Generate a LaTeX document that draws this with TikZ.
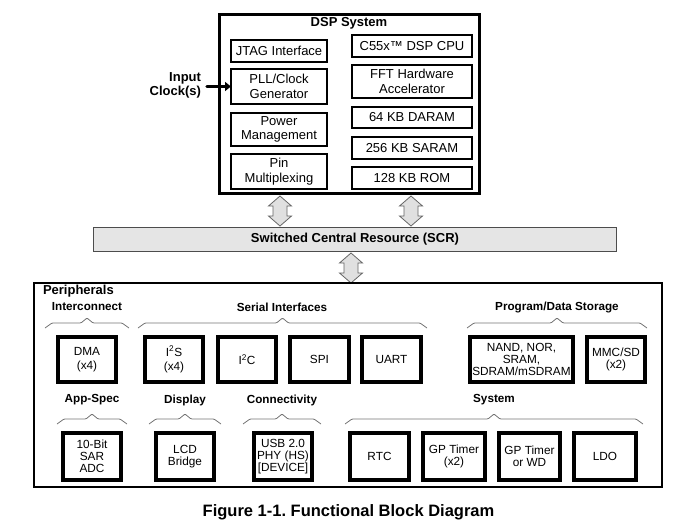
\documentclass[tikz,border=0pt]{standalone}
\usepackage{fontspec}
\setmainfont{Liberation Sans}
\usetikzlibrary{arrows.meta,positioning}
\frenchspacing

\tikzset{
    busarrow/.pic={
        \draw[draw=black!60, fill=black!12, line width=0.8pt]
            (0,-15) -- (11.5,-5) -- (7,-5) -- (7,5) -- (11.5,5) -- (0,15)
            -- (-11.5,5) -- (-7,5) -- (-7,-5) -- (-11.5,-5) -- cycle;
    }
}

\begin{document}
\begin{tikzpicture}[
    x=1pt, y=-1pt,
    every node/.style={inner sep=0pt, outer sep=0pt},
    dspbox/.style={rectangle, draw, line width=1.8pt, align=center, minimum width=96pt, font=\fontsize{13}{14.5}\selectfont},
    cpubox/.style={dspbox, minimum width=120pt},
    perbox/.style={rectangle, draw, line width=4pt, align=center, minimum width=58pt, minimum height=45pt, font=\fontsize{11.8}{12}\selectfont},
    perbox2/.style={perbox, minimum height=47pt},
    grplabel/.style={font=\fontsize{11.7}{13}\bfseries\selectfont},
    grpbrace/.style={draw=black!55, line width=0.8pt, rounded corners=1pt}
]
\useasboundingbox (0,0) rectangle (699,527);

% DSP system
\node[draw, line width=3pt, minimum width=260pt, minimum height=179pt] (dsp) at (349.5,104) {};
\node[font=\fontsize{13}{15}\bfseries\selectfont] (dsptitle) at (349,23) {DSP System};

\node[dspbox, minimum height=22pt] (jtag) at (279,51) {JTAG Interface};
\node[dspbox, minimum height=35pt] (pll) at (279,86.5) {PLL/Clock\\Generator};
\node[dspbox, minimum height=33pt] (power) at (279,129.5) {Power\\Management};
\node[dspbox, minimum height=35pt] (pinmux) at (279,171.5) {Pin\\Multiplexing};

\node[cpubox, minimum height=22pt] (cpu) at (412,46) {C55x™ DSP CPU};
\node[cpubox, minimum height=33pt] (fft) at (412,81.5) {FFT Hardware\\Accelerator};
\node[cpubox, minimum height=21pt] (daram) at (412,117.5) {64 KB DARAM};
\node[cpubox, minimum height=22pt] (saram) at (412,148) {256 KB SARAM};
\node[cpubox, minimum height=22pt] (rom) at (412,178) {128 KB ROM};

% clock input
\node[anchor=east, align=right, font=\fontsize{13}{14}\bfseries\selectfont] (clkin) at (201,85) {Input\\Clock(s)};
\draw[line width=3.5pt, line cap=round, -{Triangle[length=6pt, width=9pt]}] ([xshift=6pt]clkin.east |- pll.west) -- (pll.west);

% SCR
\node[draw=black!70, fill=black!10, line width=1pt, minimum width=523pt, minimum height=24pt, font=\fontsize{13}{15}\bfseries\selectfont] (scr) at (355,239.5) {Switched Central Resource (SCR)};

\pic at (280,211) {busarrow};
\pic at (411,211) {busarrow};
\pic at (351,268) {busarrow};

% Peripherals
\node[draw, line width=1.8pt, minimum width=628pt, minimum height=204pt] (periph) at (348,385) {};
\node[anchor=west, font=\fontsize{13}{15}\bfseries\selectfont] (pertitle) at (43,291) {Peripherals};

\node[grplabel] (lblic) at (87,307) {Interconnect};
\node[grplabel] (lblser) at (282,307) {Serial Interfaces};
\node[grplabel] (lblstor) at (557,307) {Program/Data Storage};
\node[grplabel] (lblapp) at (92,400) {App-Spec};
\node[grplabel] (lbldisp) at (185,400) {Display};
\node[grplabel] (lblconn) at (282,400) {Connectivity};
\node[grplabel] (lblsys) at (494,400) {System};

\foreach \a/\b/\y in {45/129/323, 138/427/323, 467/647/323, 57/127/419, 149/221/419, 243/321/419, 345/643/419}
    \draw[grpbrace] (\a,\y+5) -- (\a+7,\y) -- ({(\a+\b)/2-6},\y) -- ({(\a+\b)/2},\y-5) -- ({(\a+\b)/2+6},\y) -- (\b-7,\y) -- (\b,\y+5);

\node[perbox] (dma) at (87,359.5) {DMA\\[2pt](x4)};
\node[perbox] (i2s) at (174,359.5) {I\textsuperscript{2}S\\[2pt](x4)};
\node[perbox] (i2c) at (247,359.5) {I\textsuperscript{2}C};
\node[perbox, minimum width=59pt] (spi) at (319.5,359.5) {SPI};
\node[perbox, minimum width=59pt] (uart) at (391.5,359.5) {UART};
\node[perbox, minimum width=103pt] (nand) at (521.5,359.5) {NAND, NOR,\\SRAM,\\SDRAM/mSDRAM};
\node[perbox] (mmc) at (616,359.5) {MMC/SD\\(x2)};

\node[perbox2] (adc) at (92,456.5) {10-Bit\\SAR\\ADC};
\node[perbox2] (lcd) at (185,456.5) {LCD\\Bridge};
\node[perbox2] (usb) at (283,456.5) {USB 2.0\\PHY (HS)\\{[DEVICE]}};
\node[perbox2, minimum width=59pt] (rtc) at (379.5,456.5) {RTC};
\node[perbox2, minimum width=62pt] (gpt) at (454,456.5) {GP Timer\\(x2)};
\node[perbox2, minimum width=61pt] (wdt) at (529.5,456.5) {GP Timer\\or WD};
\node[perbox2, minimum width=62pt] (ldo) at (605,456.5) {LDO};

\node[font=\fontsize{16.5}{18}\bfseries\selectfont] (caption) at (348.5,512) {Figure 1-1. Functional Block Diagram};

\end{tikzpicture}
\end{document}
